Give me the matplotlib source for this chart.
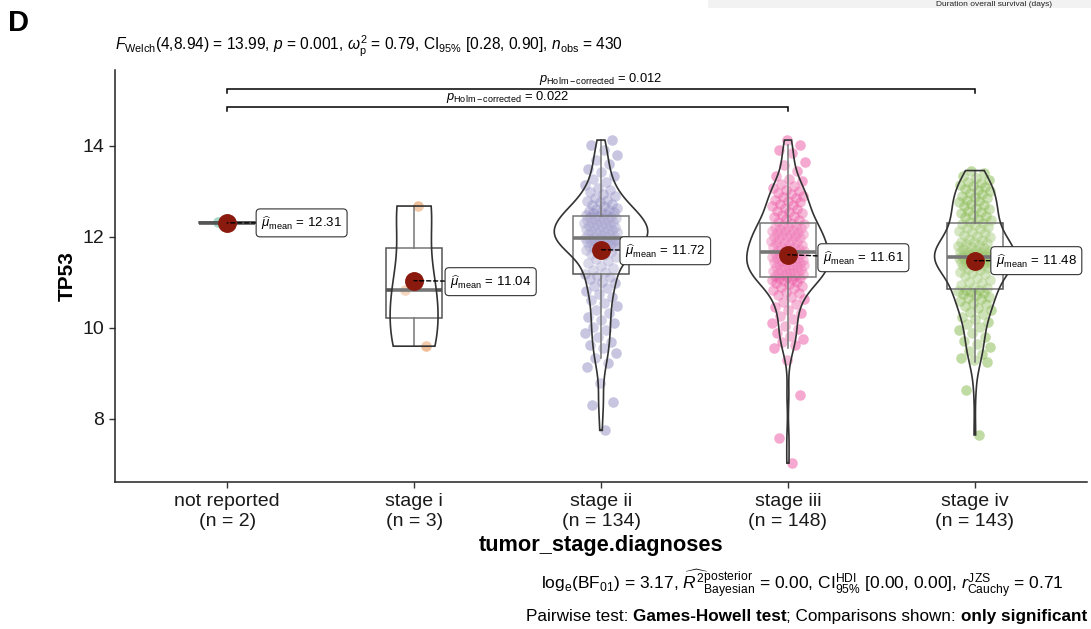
import numpy as np
import matplotlib
matplotlib.use("Agg")
import matplotlib.pyplot as plt
from matplotlib.patches import Polygon, Rectangle

plt.rcParams['font.family'] = ['Liberation Sans', 'DejaVu Sans']
plt.rcParams['mathtext.fontset'] = 'custom'
plt.rcParams['mathtext.rm'] = 'Liberation Sans'
plt.rcParams['mathtext.it'] = 'Liberation Sans:italic'
plt.rcParams['mathtext.bf'] = 'Liberation Sans:bold'
plt.rcParams['mathtext.sf'] = 'Liberation Sans'

# ---------------- data ----------------
categories = ["not reported", "stage i", "stage ii", "stage iii", "stage iv"]
counts = [2, 3, 134, 148, 143]

tp53_not_reported = [12.30, 12.33]
tp53_stage_i = [12.68, 10.84, 9.60]
tp53_stage_ii = [
    7.75, 8.30, 8.38, 8.80, 9.15, 9.22, 9.35, 9.45, 9.55, 9.62,
    9.70, 9.80, 9.88, 9.95, 10.02, 10.10, 10.18, 10.25, 10.32, 10.40,
    10.48, 10.55, 10.62, 10.68, 10.75, 10.82, 10.88, 10.93, 10.98, 11.02,
    11.07, 11.11, 11.15,
    11.18, 11.22, 11.27, 11.32, 11.37, 11.42, 11.47, 11.52, 11.56, 11.60,
    11.63, 11.66, 11.69, 11.71, 11.73, 11.75, 11.77, 11.79, 11.81, 11.83,
    11.84, 11.85, 11.86, 11.87, 11.88, 11.89, 11.90, 11.91, 11.92, 11.93,
    11.94, 11.95, 11.96, 11.96,
    11.98, 12.00, 12.01, 12.03, 12.04, 12.06, 12.07, 12.09, 12.10, 12.12,
    12.13, 12.15, 12.16, 12.18, 12.19, 12.21, 12.22, 12.24, 12.25, 12.27,
    12.28, 12.30, 12.31, 12.33, 12.34, 12.36, 12.37, 12.39, 12.40, 12.41,
    12.42, 12.43, 12.44,
    12.46, 12.48, 12.50, 12.52, 12.54, 12.56, 12.58, 12.60, 12.62, 12.64,
    12.67, 12.70, 12.73, 12.76, 12.79, 12.82, 12.86, 12.90, 12.94, 12.98,
    13.03, 13.08, 13.14, 13.20, 13.27, 13.34, 13.42, 13.50, 13.60, 13.70,
    13.80, 13.92, 14.03, 14.13,
]
tp53_stage_iii = [
    7.03, 7.58, 8.53, 9.30, 9.55, 9.62, 9.70, 9.76, 9.82, 9.90,
    9.98, 10.05, 10.12, 10.20, 10.27, 10.34, 10.40, 10.46, 10.52, 10.58,
    10.63, 10.68, 10.72, 10.76, 10.80, 10.84, 10.87, 10.90, 10.93, 10.96,
    10.99, 11.01, 11.03, 11.05, 11.07, 11.09, 11.10,
    11.12, 11.14, 11.15, 11.17, 11.18, 11.20, 11.21, 11.23, 11.24, 11.26,
    11.27, 11.29, 11.30, 11.32, 11.33, 11.35, 11.36, 11.38, 11.39, 11.41,
    11.42, 11.44, 11.45, 11.47, 11.48, 11.50, 11.51, 11.53, 11.54, 11.56,
    11.57, 11.59, 11.60, 11.62, 11.63, 11.64, 11.65,
    11.67, 11.69, 11.71, 11.72, 11.74, 11.76, 11.78, 11.79, 11.81, 11.83,
    11.85, 11.86, 11.88, 11.90, 11.92, 11.93, 11.95, 11.97, 11.99, 12.00,
    12.02, 12.04, 12.06, 12.07, 12.09, 12.11, 12.13, 12.14, 12.16, 12.18,
    12.20, 12.21, 12.23, 12.25, 12.27, 12.29, 12.31,
    12.34, 12.37, 12.40, 12.43, 12.46, 12.49, 12.52, 12.55, 12.58, 12.61,
    12.64, 12.67, 12.70, 12.73, 12.76, 12.79, 12.82, 12.85, 12.88, 12.91,
    12.94, 12.97, 13.00, 13.04, 13.08, 13.12, 13.17, 13.22, 13.28, 13.35,
    13.45, 13.58, 13.65, 13.85, 13.92, 14.02, 14.13,
]
tp53_stage_iv = [
    7.65, 8.64, 9.26, 9.30, 9.35, 9.42, 9.50, 9.58, 9.65, 9.72,
    9.80, 9.88, 9.95, 10.02, 10.08, 10.14, 10.20, 10.25, 10.30, 10.35,
    10.40, 10.44, 10.48, 10.52, 10.56, 10.60, 10.63, 10.66, 10.69, 10.72,
    10.75, 10.77, 10.79, 10.81, 10.83, 10.84,
    10.87, 10.90, 10.94, 10.98, 11.02, 11.06, 11.10, 11.14, 11.18, 11.21,
    11.24, 11.27, 11.30, 11.32, 11.34, 11.36, 11.38, 11.40, 11.41, 11.42,
    11.43, 11.44, 11.45, 11.46, 11.47, 11.48, 11.49, 11.50, 11.51, 11.52,
    11.53, 11.54, 11.55, 11.56, 11.56,
    11.57,
    11.58, 11.59, 11.60, 11.61, 11.62, 11.63, 11.64, 11.65, 11.66, 11.67,
    11.68, 11.70, 11.72, 11.74, 11.76, 11.78, 11.80, 11.82, 11.84, 11.86,
    11.88, 11.90, 11.93, 11.96, 11.99, 12.02, 12.05, 12.08, 12.11, 12.14,
    12.17, 12.20, 12.23, 12.26, 12.29,
    12.31, 12.34, 12.37, 12.40, 12.43, 12.46, 12.49, 12.52, 12.55, 12.58,
    12.61, 12.64, 12.67, 12.70, 12.73, 12.76, 12.79, 12.82, 12.85, 12.88,
    12.91, 12.94, 12.97, 13.00, 13.03, 13.06, 13.09, 13.12, 13.15, 13.18,
    13.21, 13.25, 13.30, 13.35, 13.40, 13.46,
]
means = [12.31, 11.04, 11.72, 11.61, 11.48]
pairwise_pairs = [(0, 3), (0, 4)]
pairwise_p = ["0.022", "0.012"]

groups = [tp53_not_reported, tp53_stage_i, tp53_stage_ii, tp53_stage_iii, tp53_stage_iv]
colors = ["#1B9E77", "#D95F02", "#7570B3", "#E7298A", "#66A61E"]

# ---------------- figure ----------------
W, H = 1091, 629
fig = plt.figure(figsize=(W / 100, H / 100), dpi=100)
ax = fig.add_axes([115 / W, (H - 482) / H, 972 / W, 412 / H])
positions = np.arange(1, len(categories) + 1)

# jittered points (deterministic low-discrepancy jitter)
for pos, vals, col in zip(positions, groups, colors):
    v = np.asarray(vals)
    k = np.arange(1, len(v) + 1)
    jit = (np.mod(k * 0.6180339887, 1.0) * 2 - 1) * 0.09
    ax.scatter(pos + jit, v, s=58, color=col, alpha=0.4, linewidths=0, zorder=2)

# boxplots
bp = ax.boxplot(groups, positions=positions, widths=0.3, whis=1.5, showfliers=False,
                patch_artist=True, showcaps=False, manage_ticks=False,
                boxprops=dict(facecolor=(1, 1, 1, 0.2), edgecolor='#555555', linewidth=1.1),
                medianprops=dict(color='#555555', linewidth=2.6),
                whiskerprops=dict(color='#555555', linewidth=1.1), zorder=3)


# violins (gaussian kde, bw.nrd0, area scaling, trimmed)
def bw_nrd0(x):
    sd = np.std(x, ddof=1)
    q75, q25 = np.percentile(x, [75, 25])
    lo = min(sd, (q75 - q25) / 1.34)
    if lo <= 0:
        lo = sd
    return 0.9 * lo * len(x) ** -0.2


dens = []
for vals in groups[1:]:
    v = np.asarray(vals)
    grid = np.linspace(v.min(), v.max(), 512)
    bw = bw_nrd0(v)
    d = np.exp(-0.5 * ((grid[:, None] - v[None, :]) / bw) ** 2).sum(1) / (len(v) * bw * np.sqrt(2 * np.pi))
    dens.append((grid, d))
dmax = max(d.max() for _, d in dens)
for pos, (grid, d) in zip(positions[1:], dens):
    half = d / dmax * 0.25
    xs = np.concatenate([pos + half, (pos - half)[::-1]])
    ys = np.concatenate([grid, grid[::-1]])
    ax.add_patch(Polygon(np.column_stack([xs, ys]), closed=True, facecolor=(1, 1, 1, 0.2),
                         edgecolor='#333333', linewidth=1.2, zorder=4))

# means + labels
label_dx = [34, 36, 24, 35, 21]
label_dy = [0, -1, -1, -3, 0]
for pos, m, dx, dy in zip(positions, means, label_dx, label_dy):
    ax.scatter([pos], [m], s=185, color='#8B1A0E', linewidths=0, zorder=5)
    ax.annotate(r"$\widehat{\mu}_{\mathrm{mean}}$ = %.2f" % m, xy=(pos, m),
                xytext=(dx, dy), textcoords='offset pixels', ha='left', va='center',
                fontsize=9.5, zorder=6,
                bbox=dict(boxstyle='round,pad=0.38,rounding_size=0.3', fc='white', ec='#333333', lw=0.8),
                arrowprops=dict(arrowstyle='-', linestyle=(0, (3, 2)), color='black', lw=1.0,
                                shrinkA=0, shrinkB=0))

# pairwise brackets
bracket_levels = [14.86, 15.25]
for (a, b), p, yb in zip(pairwise_pairs, pairwise_p, bracket_levels):
    xa, xb = positions[a], positions[b]
    ax.plot([xa, xa, xb, xb], [yb - 0.09, yb, yb, yb - 0.09], color='black', lw=1.1,
            solid_joinstyle='miter', zorder=3, clip_on=False)
    ax.text((xa + xb) / 2, yb + 0.05, r"$\mathit{p}_{\mathrm{Holm-corrected}}$ = " + p,
            ha='center', va='bottom', fontsize=9.3)

# axes styling
ax.set_xlim(0.4, 5.6)
ax.set_ylim(6.615, 15.67)
ax.set_yticks([8, 10, 12, 14])
ax.set_xticks(positions)
ax.set_xticklabels([f"{c}\n(n = {n})" for c, n in zip(categories, counts)])
for s in ['top', 'right']:
    ax.spines[s].set_visible(False)
for s in ['left', 'bottom']:
    ax.spines[s].set_linewidth(1.1)
    ax.spines[s].set_color('#222222')
ax.tick_params(axis='both', length=4, width=1, color='#333333', labelsize=14, labelcolor='#1a1a1a', pad=4)

fig.text(67 / W, 1 - 276 / H, "TP53", rotation=90, ha='center', va='center', fontsize=15, fontweight='bold')
fig.text(601 / W, 1 - 545 / H, "tumor_stage.diagnoses", ha='center', va='center', fontsize=15.7, fontweight='bold')

# title & panel letter
fig.text(8 / W, 1 - 23 / H, "D", ha='left', va='center', fontsize=21, fontweight='bold')
fig.text(115 / W, 1 - 46 / H,
         r"$\mathit{F}_{\mathrm{Welch}}$(4,8.94) = 13.99, $\mathit{p}$ = 0.001, "
         r"$\omega_{\mathrm{p}}^{2}$ = 0.79, CI$_{95\%}$ [0.28, 0.90], $\mathit{n}_{\mathrm{obs}}$ = 430",
         ha='left', va='center', fontsize=11.2)

# captions
fig.text(1064 / W, 1 - 584 / H,
         r"log$_{\mathrm{e}}$(BF$_{01}$) = 3.17, $\widehat{\mathit{R}^{2}}_{\mathrm{Bayesian}}^{\mathrm{posterior}}$ = 0.00, "
         r"CI$_{95\%}^{\mathrm{HDI}}$ [0.00, 0.00], $\mathit{r}_{\mathrm{Cauchy}}^{\mathrm{JZS}}$ = 0.71",
         ha='right', va='center', fontsize=12.5)

pieces = [("Pairwise test: ", 'normal'), ("Games-Howell test", 'bold'),
          ("; Comparisons shown: ", 'normal'), ("only significant", 'bold')]
prev = None
for txt, w in reversed(pieces):
    if prev is None:
        prev = fig.text(1087 / W, 1 - 624 / H, txt, ha='right', va='bottom', fontsize=12.3, fontweight=w)
    else:
        prev = ax.annotate(txt, xy=(0, 0), xycoords=prev, ha='right', va='bottom',
                           fontsize=12.3, fontweight=w, annotation_clip=False)

# cropped neighbour panel strip at top right
fig.add_artist(Rectangle((708 / W, 1 - 8 / H), (W - 708) / W, 8 / H, transform=fig.transFigure,
                         facecolor='#f2f2f2', edgecolor='none'))
fig.text(994 / W, 1 - 6 / H, "Duration overall survival (days)", ha='center', va='baseline',
         fontsize=6, color='#222222')

fig.savefig("out.png", dpi=100)
